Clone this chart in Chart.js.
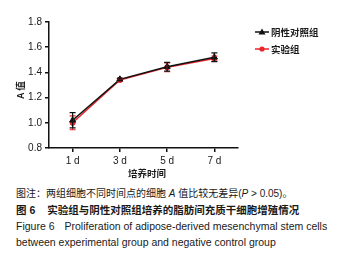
<!DOCTYPE html>
<html lang="zh">
  <head>
    <meta charset="utf-8" />
    <title>Figure 6</title>
    <style>
      * {
        margin: 0;
        padding: 0;
      }
      body {
        width: 345px;
        height: 269px;
        background: #fff;
        position: relative;
        overflow: hidden;
        font-family: "Liberation Sans", "Noto Sans CJK SC", sans-serif;
        color: #1a1a1a;
      }
      #chartBox {
        position: absolute;
        left: 0;
        top: 0;
        width: 345px;
        height: 180px;
      }
      .cap {
        position: absolute;
        left: 16px;
        white-space: nowrap;
        font-size: 10px;
        line-height: 14px;
      }
      .cjk {
        font-family: "Noto Sans CJK SC", sans-serif;
      }
      .bold {
        font-weight: bold;
      }
    </style>
  </head>
  <body>
    <div id="chartBox"><canvas id="myChart" width="345" height="180"></canvas></div>

    <div class="cap" style="top: 186px">
      <span class="cjk">图注：两组细胞不同时间点的细胞</span> <i>A</i> <span class="cjk">值比较无差异</span>(<i>P</i> &gt; 0.05)<span class="cjk">。</span>
    </div>
    <div class="cap bold" style="top: 203px; font-size: 10.5px">
      <span class="cjk">图</span> 6<span class="cjk" style="margin-left: 12px">实验组与阴性对照组培养的脂肪间充质干细胞增殖情况</span>
    </div>
    <div class="cap" style="top: 219px; font-size: 10.5px">
      Figure 6<span style="margin-left: 10px">Proliferation of adipose-derived mesenchymal stem cells</span>
    </div>
    <div class="cap" style="top: 235px; font-size: 10.5px">
      between experimental group and negative control group
    </div>

    <script src="https://cdn.jsdelivr.net/npm/chart.js"></script>

    <script>
      const days = [1, 3, 5, 7];
      const dayLabels = ["1 d", "3 d", "5 d", "7 d"];
      const yTicks = [0.8, 1.0, 1.2, 1.4, 1.6, 1.8];
      const seriesNames = ["阴性对照组", "实验组"];
      const controlMean = [1.02, 1.345, 1.445, 1.52];
      const controlSD = [0.06, 0.01, 0.035, 0.035];
      const expMean = [1.0, 1.34, 1.44, 1.51];
      const expSD = [0.055, 0.01, 0.035, 0.02];

      const BLACK = "#111111";
      const RED = "#e8252b";
      const CJK = "'Noto Sans CJK SC', sans-serif";

      Chart.defaults.font.family = "'Liberation Sans', Arial, sans-serif";
      Chart.defaults.font.size = 10;
      Chart.defaults.color = "#1a1a1a";

      const errorBars = {
        id: "errorBars",
        afterDatasetsDraw(chart) {
          const { ctx, scales: { x, y } } = chart;
          ctx.save();
          [1, 0].forEach((di) => {
            const ds = chart.data.datasets[di];
            ctx.strokeStyle = ds.borderColor;
            ctx.lineWidth = 1.2;
            ds.sd.forEach((s, i) => {
              const px = x.getPixelForValue(days[i]);
              const top = y.getPixelForValue(ds.data[i].y + s);
              const bot = y.getPixelForValue(ds.data[i].y - s);
              ctx.beginPath();
              ctx.moveTo(px, top);
              ctx.lineTo(px, bot);
              ctx.moveTo(px - 3, top);
              ctx.lineTo(px + 3, top);
              ctx.moveTo(px - 3, bot);
              ctx.lineTo(px + 3, bot);
              ctx.stroke();
            });
          });
          ctx.restore();
        },
      };

      const extraText = {
        id: "extraText",
        afterDraw(chart) {
          const { ctx } = chart;
          ctx.save();
          ctx.fillStyle = "#1a1a1a";
          ctx.font = "bold 9.5px " + CJK;
          ctx.textBaseline = "middle";

          // axis titles
          ctx.textAlign = "center";
          ctx.fillText("培养时间", 147, 173);
          ctx.save();
          ctx.translate(20, 90);
          ctx.rotate(-Math.PI / 2);
          ctx.fillText("A 值", 0, 0);
          ctx.restore();

          // legend
          const rows = [32, 49];
          chart.data.datasets.forEach((ds, i) => {
            const ly = rows[i];
            ctx.strokeStyle = ds.borderColor;
            ctx.fillStyle = ds.borderColor;
            ctx.lineWidth = 1.5;
            ctx.beginPath();
            ctx.moveTo(255, ly);
            ctx.lineTo(269, ly);
            ctx.stroke();
            ctx.beginPath();
            if (ds.pointStyle === "triangle") {
              ctx.moveTo(262, ly - 3.5);
              ctx.lineTo(265.5, ly + 2.5);
              ctx.lineTo(258.5, ly + 2.5);
              ctx.closePath();
            } else {
              ctx.arc(262, ly, 2.6, 0, Math.PI * 2);
            }
            ctx.fill();
            ctx.fillStyle = "#1a1a1a";
            ctx.textAlign = "left";
            ctx.fillText(seriesNames[i], 271, ly);
          });
          ctx.restore();
        },
      };

      const data = {
        datasets: [
          {
            label: seriesNames[0],
            data: days.map((d, i) => ({ x: d, y: controlMean[i] })),
            sd: controlSD,
            borderColor: BLACK,
            backgroundColor: BLACK,
            borderWidth: 1.5,
            pointStyle: "triangle",
            pointRadius: 3.5,
            pointBorderWidth: 1,
          },
          {
            label: seriesNames[1],
            data: days.map((d, i) => ({ x: d, y: expMean[i] })),
            sd: expSD,
            borderColor: RED,
            backgroundColor: RED,
            borderWidth: 1.5,
            pointStyle: "circle",
            pointRadius: 2.6,
            pointBorderWidth: 1,
          },
        ],
      };

      const axisGrid = {
        display: true,
        drawOnChartArea: false,
        drawTicks: true,
        tickLength: 4,
        color: BLACK,
        lineWidth: 1.5,
      };

      const config = {
        type: "line",
        data: data,
        options: {
          responsive: false,
          animation: false,
          layout: { padding: { top: 22, right: 107, left: 0, bottom: 0 } },
          plugins: {
            legend: { display: false },
            tooltip: { enabled: false },
          },
          scales: {
            x: {
              type: "linear",
              min: 0,
              max: 8,
              grid: axisGrid,
              border: { display: true, color: BLACK, width: 1.5 },
              afterBuildTicks: (scale) => {
                scale.ticks = days.map((v) => ({ value: v }));
              },
              afterFit: (scale) => {
                scale.height = 32;
              },
              ticks: {
                padding: 3,
                maxRotation: 0,
                callback: (v) => dayLabels[days.indexOf(v)],
              },
            },
            y: {
              min: 0.8,
              max: 1.8,
              grid: axisGrid,
              border: { display: true, color: BLACK, width: 1.5 },
              afterBuildTicks: (scale) => {
                scale.ticks = yTicks.map((v) => ({ value: v }));
              },
              afterFit: (scale) => {
                scale.width = 49;
              },
              ticks: {
                padding: 3,
                callback: (v) => v.toFixed(1),
              },
            },
          },
        },
        plugins: [errorBars, extraText],
      };

      const myChart = new Chart(document.getElementById("myChart"), config);
    </script>
  </body>
</html>
